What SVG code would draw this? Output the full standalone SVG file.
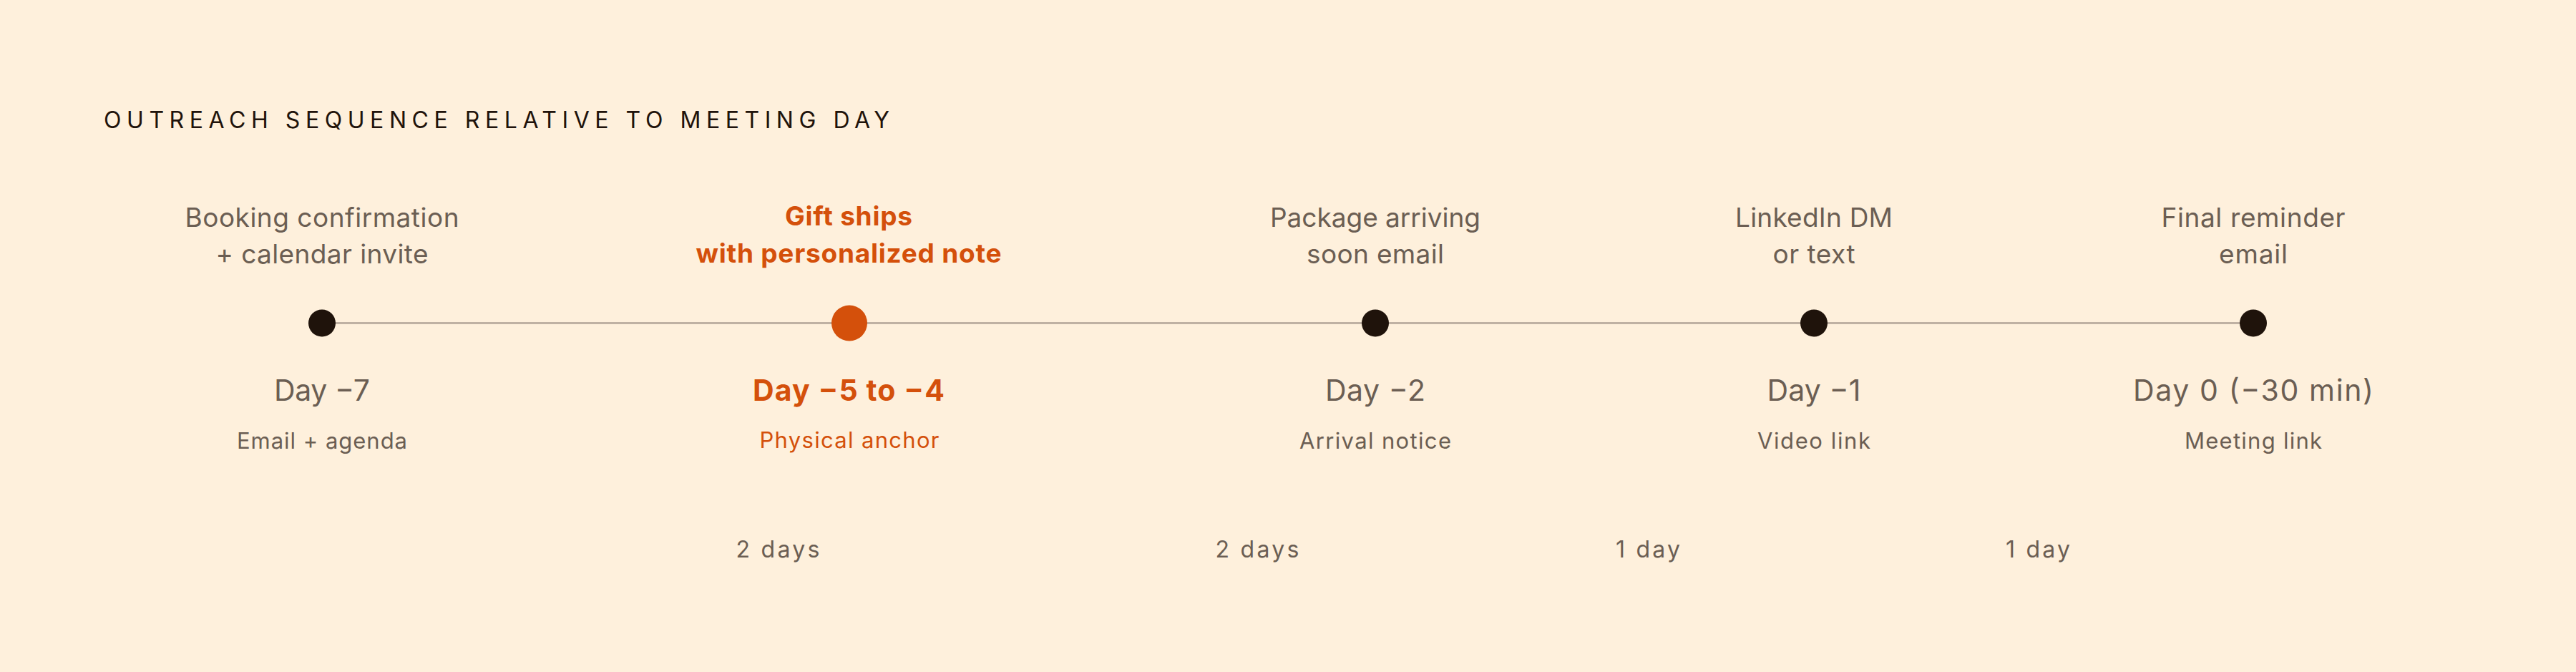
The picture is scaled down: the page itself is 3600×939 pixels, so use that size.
<svg xmlns="http://www.w3.org/2000/svg" width="3600" height="939" viewBox="0 0 3600 939">
<style>
text{font-family:Inter,"Noto Sans","Liberation Sans",sans-serif;}
.title{font-size:32px;fill:#1f130b;letter-spacing:6px;}
.top{font-size:37px;fill:#6b5e53;text-anchor:middle;}
.topa{font-size:37px;fill:#d4500b;font-weight:700;text-anchor:middle;}
.day{font-size:41px;fill:#6b5e53;text-anchor:middle;}
.daya{font-size:41px;fill:#d4500b;font-weight:700;text-anchor:middle;}
.sub{font-size:31px;fill:#6b5e53;text-anchor:middle;}
.suba{font-size:31px;fill:#d4500b;text-anchor:middle;}
.gap{font-size:32px;fill:#6b5e53;text-anchor:middle;}
.dot{fill:#1f130b;}
.dota{fill:#d4500b;}
.line{stroke:#bfb1a3;stroke-width:3;fill:none;}
</style>
<rect width="3600" height="939" fill="#fef0dc"/>
<text class="title" x="145" y="179" textLength="1104" lengthAdjust="spacing">OUTREACH SEQUENCE RELATIVE TO MEETING DAY</text>
<g id="connectors">
<line class="line" x1="450" y1="451.5" x2="3149" y2="451.5"/>
</g>
<g id="node-day7">
<text class="top" x="450" y="317" textLength="383" lengthAdjust="spacing">Booking confirmation</text>
<text class="top" x="450" y="368" textLength="297" lengthAdjust="spacing">+ calendar invite</text>
<circle class="dot" cx="450" cy="451.5" r="19"/>
<text class="day" x="450" y="560" textLength="134" lengthAdjust="spacing">Day −7</text>
<text class="sub" x="450" y="627" textLength="238" lengthAdjust="spacing">Email + agenda</text>
</g>
<g id="node-day5">
<text class="topa" x="1186" y="315" textLength="178" lengthAdjust="spacing">Gift ships</text>
<text class="topa" x="1186" y="367" textLength="427" lengthAdjust="spacing">with personalized note</text>
<circle class="dota" cx="1187" cy="451.5" r="25"/>
<text class="daya" x="1186" y="560" textLength="268" lengthAdjust="spacing">Day −5 to −4</text>
<text class="suba" x="1187" y="626" textLength="251" lengthAdjust="spacing">Physical anchor</text>
</g>
<g id="node-day2">
<text class="top" x="1922" y="317" textLength="294" lengthAdjust="spacing">Package arriving</text>
<text class="top" x="1922" y="368" textLength="192" lengthAdjust="spacing">soon email</text>
<circle class="dot" cx="1922" cy="451.5" r="19"/>
<text class="day" x="1922" y="560" textLength="140" lengthAdjust="spacing">Day −2</text>
<text class="sub" x="1922" y="627" textLength="212" lengthAdjust="spacing">Arrival notice</text>
</g>
<g id="node-day1">
<text class="top" x="2535" y="317" textLength="220" lengthAdjust="spacing">LinkedIn DM</text>
<text class="top" x="2535" y="368" textLength="115" lengthAdjust="spacing">or text</text>
<circle class="dot" cx="2535" cy="451.5" r="19"/>
<text class="day" x="2535" y="560" textLength="131" lengthAdjust="spacing">Day −1</text>
<text class="sub" x="2535" y="627" textLength="158" lengthAdjust="spacing">Video link</text>
</g>
<g id="node-day0">
<text class="top" x="3149" y="317" textLength="257" lengthAdjust="spacing">Final reminder</text>
<text class="top" x="3149" y="368" textLength="96" lengthAdjust="spacing">email</text>
<circle class="dot" cx="3149" cy="451.5" r="19"/>
<text class="day" x="3149" y="560" textLength="336" lengthAdjust="spacing">Day 0 (−30 min)</text>
<text class="sub" x="3149" y="627" textLength="192" lengthAdjust="spacing">Meeting link</text>
</g>
<g id="gaps">
<text class="gap" x="1087" y="779" textLength="117" lengthAdjust="spacing">2 days</text>
<text class="gap" x="1757" y="779" textLength="117" lengthAdjust="spacing">2 days</text>
<text class="gap" x="2303" y="779" textLength="90" lengthAdjust="spacing">1 day</text>
<text class="gap" x="2848" y="779" textLength="90" lengthAdjust="spacing">1 day</text>
</g>
</svg>
